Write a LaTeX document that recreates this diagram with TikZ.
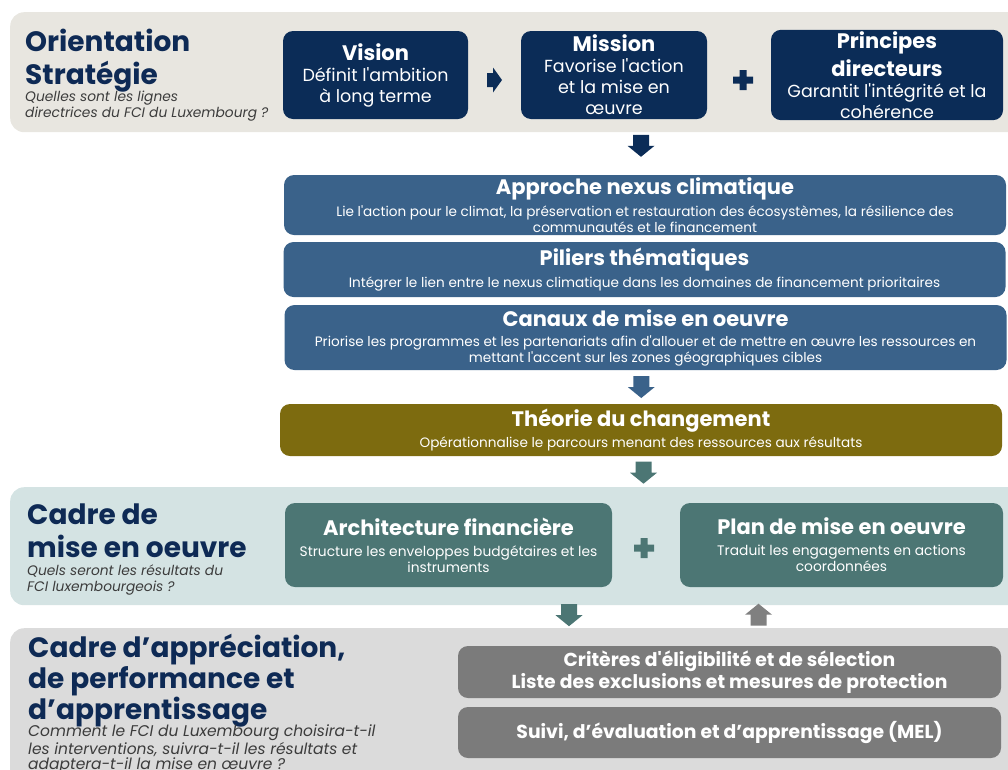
\documentclass[tikz,border=0pt]{standalone}
\usepackage{fontspec}
\defaultfontfeatures[\rmfamily,\sffamily]{}
\setmainfont{Poppins}
\usetikzlibrary{calc}
\definecolor{bandA}{HTML}{E8E6E0}
\definecolor{bandB}{HTML}{D4E3E3}
\definecolor{bandC}{HTML}{DBDBDB}
\definecolor{navy}{HTML}{0B2C57}
\definecolor{navyT}{HTML}{0E2A55}
\definecolor{steel}{HTML}{3A628A}
\definecolor{olive}{HTML}{7D6B0F}
\definecolor{tealbox}{HTML}{4C7674}
\definecolor{greybox}{HTML}{7B7B7B}
\definecolor{greyup}{HTML}{808080}
\definecolor{questT}{HTML}{3C3C3C}
\newcommand\blockdown[2]{\fill[#1, shift={(#2)}] (-8,-11) -- (8,-11) -- (8,0) -- (13.5,0) -- (0,11) -- (-13.5,0) -- (-8,0) -- cycle;}
\newcommand\blockup[2]{\fill[#1, shift={(#2)}] (-8,11) -- (8,11) -- (8,0) -- (13.5,0) -- (0,-11) -- (-13.5,0) -- (-8,0) -- cycle;}
\newcommand\blockright[2]{\fill[#1, shift={(#2)}] (-7.5,-7) -- (-1.5,-7) -- (-1.5,-12.5) -- (7.5,0) -- (-1.5,12.5) -- (-1.5,7) -- (-7.5,7) -- cycle;}
\newcommand\plussign[2]{\fill[#1, shift={(#2)}] (-3.5,-10) -- (3.5,-10) -- (3.5,-3.5) -- (10,-3.5) -- (10,3.5) -- (3.5,3.5) -- (3.5,10) -- (-3.5,10) -- (-3.5,3.5) -- (-10,3.5) -- (-10,-3.5) -- (-3.5,-3.5) -- cycle;}
\tikzset{
  band/.style={rounded corners=14, inner sep=0, anchor=north west},
  bigtitle/.style={font=\bfseries\fontsize{28}{32.5}\selectfont, text=navyT, align=left, inner sep=0, anchor=base west},
  quest/.style={font=\itshape\fontsize{13.8}{15.5}\selectfont, text=questT, align=left, inner sep=0, anchor=base west},
  box/.style={rounded corners=10, inner sep=2, align=center, text=white},
  topbox/.style={box, fill=navy, minimum height=88, font=\fontsize{17.5}{21}\selectfont},
  widebox/.style={box, minimum width=722, font=\fontsize{13.6}{16}\selectfont},
  implbox/.style={box, fill=tealbox, minimum height=84, font=\fontsize{13.8}{16}\selectfont},
  evalbox/.style={box, fill=greybox, minimum width=543, font=\bfseries\fontsize{18.8}{22}\selectfont},
}
\newcommand\bt[1]{{\bfseries\fontsize{21}{24}\selectfont #1}}
\newcommand\wt[1]{{\bfseries\fontsize{21}{24}\selectfont #1}}
\begin{document}
\begin{tikzpicture}[x=1pt,y=-1pt]
\useasboundingbox (0,0) rectangle (1008,769);
\clip (0,0) rectangle (1008,769);
% bands
\node[band, fill=bandA, minimum width=1030, minimum height=120] (bandA) at (10,12) {};
\node[band, fill=bandB, minimum width=1030, minimum height=118] (bandB) at (10,487) {};
\node[band, fill=bandC, minimum width=1030, minimum height=170] (bandC) at (10,628) {};
% band titles
\node[bigtitle] (t1) at (25,84) {Orientation\\Stratégie};
\node[quest] (q1) at (25,117) {Quelles sont les lignes\\directrices du FCI du Luxembourg ?};
\node[bigtitle] (t2) at (27,557) {Cadre de\\mise en oeuvre};
\node[quest] (q2) at (27,591) {Quels seront les résultats du\\FCI luxembourgeois ?};
\node[bigtitle, font=\bfseries\fontsize{28}{31}\selectfont] (t3) at (28,719) {Cadre d’appréciation,\\de performance et\\d’apprentissage};
\node[quest, font=\itshape\fontsize{15.5}{14}\selectfont] (q3) at (28,769) {Comment le FCI du Luxembourg choisira-t-il\\les interventions, suivra-t-il les résultats et\\adaptera-t-il la mise en œuvre ?};
% top boxes
\node[topbox, minimum width=185] (vision) at (375.5,75) {\bt{Vision}\\Définit l'ambition\\à long terme};
\node[topbox, minimum width=186] (mission) at (614,75) {\bt{Mission}\\Favorise l'action\\et la mise en\\œuvre};
\node[topbox, minimum width=232] (principes) at (887,75) {\bt{Principes}\\[4pt]\bt{directeurs}\\Garantit l'intégrité et la\\cohérence};
% middle boxes
\node[widebox, fill=steel, minimum height=60] (approche) at (645,205) {\wt{Approche nexus climatique}\\[5pt]Lie l'action pour le climat, la préservation et restauration des écosystèmes, la résilience des\\communautés et le financement};
\node[widebox, fill=steel, minimum height=55] (piliers) at (644.5,269.5) {\wt{Piliers thématiques}\\[5pt]Intégrer le lien entre le nexus climatique dans les domaines de financement prioritaires};
\node[widebox, fill=steel, minimum height=65] (canaux) at (645.5,337.5) {\wt{Canaux de mise en oeuvre}\\[4pt]Priorise les programmes et les partenariats afin d'allouer et de mettre en œuvre les ressources en\\mettant l'accent sur les zones géographiques cibles};
\node[widebox, fill=olive, minimum height=52] (theorie) at (641,430) {\wt{Théorie du changement}\\[4pt]Opérationnalise le parcours menant des ressources aux résultats};
% implementation boxes
\node[implbox, minimum width=327] (archi) at (448.5,545) {\wt{Architecture financière}\\[5pt]Structure les enveloppes budgétaires et les\\instruments};
\node[implbox, minimum width=323] (plan) at (841.5,545) {\wt{Plan de mise en oeuvre}\\[5pt]Traduit les engagements en actions\\coordonnées};
% bottom boxes
\node[evalbox, minimum height=52] (criteres) at (729.5,672) {Critères d'éligibilité et de sélection\\Liste des exclusions et mesures de protection};
\node[evalbox, minimum height=51] (suivi) at (729.5,732.5) {Suivi, d’évaluation et d’apprentissage (MEL)};
% arrows and plus signs
\coordinate (r1) at ($(vision.east)!0.5!(mission.west)+(0,5)$);
\blockright{navy}{r1}
\coordinate (p1) at ($(mission.east)!0.5!(principes.west)+(4,5)$);
\plussign{navy}{p1}
\coordinate (d1) at ($(approche.north)+(-4,-29)$);
\blockdown{navy}{d1}
\coordinate (d2) at ($(canaux.south)!0.5!(theorie.north)+(-2,0)$);
\blockdown{steel}{d2}
\coordinate (d3) at ($(theorie.south)+(2.5,16.5)$);
\blockdown{tealbox}{d3}
\coordinate (p2) at ($(archi.east)!0.5!(plan.west)+(-2,3)$);
\plussign{tealbox}{p2}
\coordinate (d4) at ($(archi.south)+(120.5,28)$);
\blockdown{tealbox}{d4}
\coordinate (u1) at ($(plan.south)+(-83,27.5)$);
\blockup{greyup}{u1}
\end{tikzpicture}
\end{document}
